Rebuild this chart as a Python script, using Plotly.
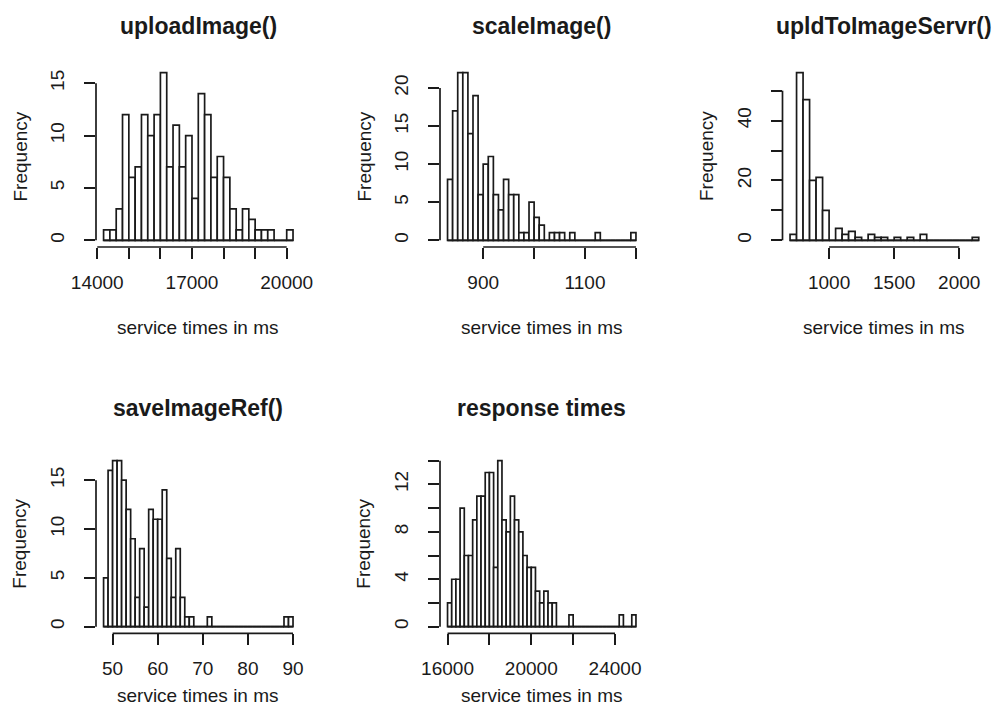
import plotly.graph_objects as go

# ---------------- data ----------------
titles = ["uploadImage()", "scaleImage()", "upldToImageServr()", "saveImageRef()", "response times"]

upload_start, upload_width = 14200, 200
upload_counts = [1, 1, 3, 12, 6, 7, 12, 10, 12, 16, 7, 11, 7, 10, 4, 14, 12, 6, 8, 6,
                 3, 1, 3, 2, 1, 1, 1, 0, 0, 1]

scale_start, scale_width = 830, 10
scale_counts = [8, 17, 22, 22, 14, 19, 6, 10, 11, 6, 4, 8, 6, 6, 1, 1, 5, 3, 2, 0,
                1, 1, 1, 0, 1, 0, 0, 0, 0, 1, 0, 0, 0, 0, 0, 0, 1]

upld_start, upld_width = 700, 50
upld_counts = [2, 56, 47, 20, 21, 10, 0, 4, 2, 3, 1, 0, 2, 1, 1, 0, 1, 0, 1, 0,
               2, 0, 0, 0, 0, 0, 0, 0, 1]

save_start, save_width = 48, 1
save_counts = [5, 16, 17, 17, 15, 12, 9, 3, 8, 2, 12, 11, 11, 14, 7, 3, 8, 3, 1, 1,
               0, 0, 0, 1, 0, 0, 0, 0, 0, 0, 0, 0, 0, 0, 0, 0, 0, 0, 0, 0, 1, 1]

resp_start, resp_width = 16000, 200
resp_counts = [2, 4, 4, 10, 6, 6, 9, 11, 11, 13, 13, 5, 14, 9, 8, 11, 9, 8, 6, 5,
               5, 3, 2, 3, 2, 2, 0, 0, 0, 1, 0, 0, 0, 0, 0, 0, 0, 0, 0, 0, 0, 1, 0, 0, 1]

x_tickvals = [[14000, 15000, 16000, 17000, 18000, 19000, 20000],
              [900, 1000, 1100, 1200],
              [1000, 1500, 2000],
              [50, 60, 70, 80, 90],
              [16000, 18000, 20000, 22000, 24000]]
x_ticktext = [["14000", "", "", "17000", "", "", "20000"],
              ["900", "", "1100", ""],
              ["1000", "1500", "2000"],
              ["50", "60", "70", "80", "90"],
              ["16000", "", "20000", "", "24000"]]
y_tickvals = [[0, 5, 10, 15],
              [0, 5, 10, 15, 20],
              [0, 10, 20, 30, 40, 50],
              [0, 5, 10, 15],
              [0, 2, 4, 6, 8, 10, 12, 14]]
y_ticktext = [["0", "5", "10", "15"],
              ["0", "5", "10", "15", "20"],
              ["0", "", "20", "", "40", ""],
              ["0", "5", "10", "15"],
              ["0", "", "4", "", "8", "", "12", ""]]

xlabel = "service times in ms"
ylabel = "Frequency"

series = [(upload_start, upload_width, upload_counts),
          (scale_start, scale_width, scale_counts),
          (upld_start, upld_width, upld_counts),
          (save_start, save_width, save_counts),
          (resp_start, resp_width, resp_counts)]

# ---------------- layout geometry (pixels) ----------------
W, H = 998, 725
col_px = [(96.0, 300.6), (440.0, 643.5), (782.5, 986.3)]
row_px = [(66.0, 247.0), (454.0, 633.3)]
pos = [(0, 0), (0, 1), (0, 2), (1, 0), (1, 1)]
title_y = [26, 408]
xlab_y = [327, 695]
ylab_dx = 76

FONT = "Arial, Liberation Sans, sans-serif"
INK = "#1a1a1a"
LW = 1.7
BASE = 19

fig = go.Figure()
layout = dict(width=W, height=H,
              margin=dict(l=0, r=0, t=0, b=0, autoexpand=False),
              paper_bgcolor="white", plot_bgcolor="white", showlegend=False,
              font=dict(family=FONT, color=INK, size=BASE))
shapes, annotations = [], []

for i, ((start, width, counts), (r, c)) in enumerate(zip(series, pos)):
    n = i + 1
    sfx = "" if n == 1 else str(n)
    xa, ya = f"x{sfx}", f"y{sfx}"
    xk, yk = f"xaxis{sfx}", f"yaxis{sfx}"
    breaks = [start + width * k for k in range(len(counts) + 1)]
    centers = [(breaks[k] + breaks[k + 1]) / 2 for k in range(len(counts))]
    span = breaks[-1] - breaks[0]
    xr = [breaks[0] - 0.04 * span, breaks[-1] + 0.04 * span]
    ymax = max(counts)
    yr = [-0.04 * ymax, 1.04 * ymax]

    fig.add_trace(go.Bar(x=centers, y=counts, width=[width] * len(counts),
                         marker=dict(color="white", line=dict(color=INK, width=LW)),
                         xaxis=xa, yaxis=ya, hoverinfo="x+y"))

    x0, x1 = col_px[c]
    y0, y1 = row_px[r]
    layout[xk] = dict(domain=[x0 / W, x1 / W], range=xr, anchor=ya,
                      tickvals=x_tickvals[i], ticktext=x_ticktext[i],
                      ticks="outside", ticklen=11, tickwidth=LW, tickcolor=INK,
                      showgrid=False, zeroline=False, showline=False,
                      tickfont=dict(size=BASE, family=FONT, color=INK),
                      ticklabelstandoff=7)
    layout[yk] = dict(domain=[1 - y1 / H, 1 - y0 / H], range=yr, anchor=xa,
                      tickvals=y_tickvals[i], ticktext=y_ticktext[i],
                      ticks="outside", ticklen=11, tickwidth=LW, tickcolor=INK,
                      showgrid=False, zeroline=False, showline=False, tickangle=-90,
                      tickfont=dict(size=BASE, family=FONT, color=INK),
                      ticklabelstandoff=12)
    # R-style axis lines spanning first..last tick
    shapes.append(dict(type="line", xref=xa, yref=f"{ya} domain",
                       x0=x_tickvals[i][0], x1=x_tickvals[i][-1], y0=0, y1=0,
                       line=dict(color=INK, width=LW)))
    shapes.append(dict(type="line", xref=f"{xa} domain", yref=ya,
                       x0=0, x1=0, y0=y_tickvals[i][0], y1=y_tickvals[i][-1],
                       line=dict(color=INK, width=LW)))
    # histogram baseline (zero-height bins)
    shapes.append(dict(type="line", xref=xa, yref=ya, x0=breaks[0], x1=breaks[-1],
                       y0=0, y1=0, line=dict(color=INK, width=LW)))
    cx = (x0 + x1) / 2 / W
    annotations.append(dict(text=f"<b>{titles[i]}</b>", x=cx, y=1 - title_y[r] / H,
                            xref="paper", yref="paper", showarrow=False,
                            xanchor="center", yanchor="middle",
                            font=dict(size=23, family=FONT, color=INK)))
    annotations.append(dict(text=xlabel, x=cx, y=1 - xlab_y[r] / H,
                            xref="paper", yref="paper", showarrow=False,
                            xanchor="center", yanchor="middle",
                            font=dict(size=BASE, family=FONT, color=INK)))
    annotations.append(dict(text=ylabel, x=(x0 - ylab_dx) / W, y=1 - (y0 + y1) / 2 / H,
                            xref="paper", yref="paper", showarrow=False, textangle=-90,
                            xanchor="center", yanchor="middle",
                            font=dict(size=BASE, family=FONT, color=INK)))

layout["shapes"] = shapes
layout["annotations"] = annotations
fig.update_layout(**layout)
fig.write_html("out.html")
